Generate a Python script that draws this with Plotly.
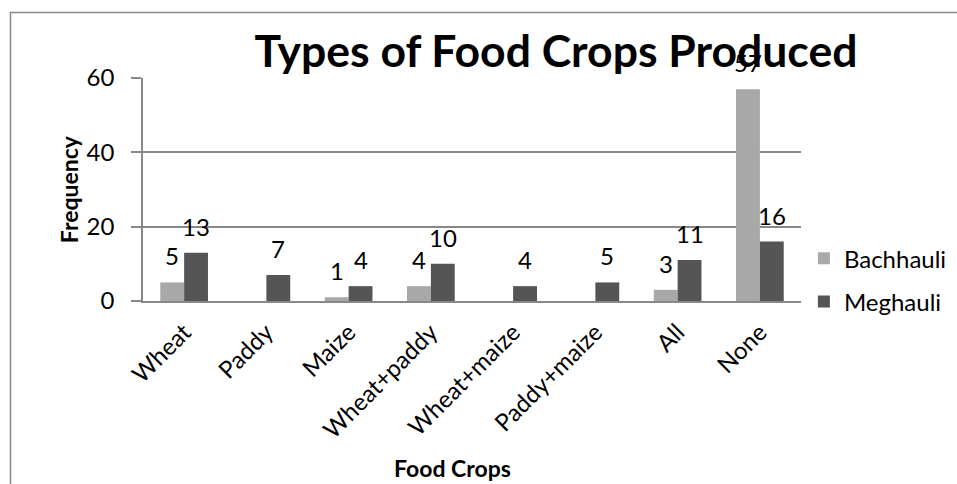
import plotly.graph_objects as go

# Survey counts of food crops produced, by village
crops = ["Wheat", "Paddy", "Maize", "Wheat+paddy", "Wheat+maize",
         "Paddy+maize", "All", "None"]
bachhauli = [5, 0, 1, 4, 0, 0, 3, 57]
meghauli = [13, 7, 4, 10, 4, 5, 11, 16]
y_ticks = [0, 20, 40, 60]

FONT = "Lato"
GRID = "#888888"

fig = go.Figure()
fig.add_trace(go.Bar(name="Bachhauli", x=crops, y=bachhauli,
                     marker=dict(color="#a8a8a8", line=dict(width=0)),
                     legendgroup="b"))
fig.add_trace(go.Bar(name="Meghauli", x=crops, y=meghauli,
                     marker=dict(color="#555555", line=dict(width=0)),
                     legendgroup="m"))

# value labels above each bar (skip empty bars)
annotations = []
for series, shift in ((bachhauli, -12), (meghauli, 12)):
    for c, v in zip(crops, series):
        if v == 0:
            continue
        annotations.append(dict(x=c, y=v, xref="x", yref="y", text=str(v),
                                showarrow=False, xshift=shift, yshift=10,
                                yanchor="bottom",
                                font=dict(family=FONT, size=24, color="#000")))

# axis titles
annotations.append(dict(x=0.47, y=-0.75, xref="paper", yref="paper",
                        text="<b>Food Crops</b>", showarrow=False,
                        xanchor="center", yanchor="middle",
                        font=dict(family=FONT, size=23, color="#000")))
annotations.append(dict(x=-0.113, y=0.5, xref="paper", yref="paper",
                        text="<b>Frequency</b>", showarrow=False, textangle=-90,
                        xanchor="center", yanchor="middle",
                        font=dict(family=FONT, size=23, color="#000")))

fig.update_layout(
    width=957, height=484,
    margin=dict(l=143, r=156, t=78, b=183),
    paper_bgcolor="white", plot_bgcolor="white",
    barmode="group", bargap=0.42, bargroupgap=0,
    font=dict(family=FONT, size=24, color="#000"),
    title=dict(text="<b>Types of Food Crops Produced</b>",
               x=0.581, xref="container", xanchor="center",
               y=0.893, yref="container", yanchor="middle",
               font=dict(family=FONT, size=44.5, color="#000")),
    legend=dict(x=0.84, y=0.512, xref="container", yref="container",
                xanchor="left", yanchor="top",
                font=dict(family=FONT, size=24, color="#000"),
                tracegroupgap=9, bgcolor="rgba(0,0,0,0)"),
    annotations=annotations,
    shapes=[dict(type="rect", xref="paper", yref="paper",
                 x0=-0.2014, x1=1.25, y0=-0.9, y1=1.2937,
                 line=dict(color=GRID, width=1.5), layer="below")],
    showlegend=True,
)

fig.update_xaxes(
    type="category", tickangle=-45, showgrid=False, automargin=False,
    showline=True, linecolor=GRID, linewidth=1.5,
    ticks="", ticklabelstandoff=6,
    tickfont=dict(family=FONT, size=24, color="#000"),
)
fig.update_yaxes(
    range=[0, 60], tickvals=y_ticks, showgrid=True, automargin=False,
    gridcolor=GRID, gridwidth=1.5,
    showline=True, linecolor=GRID, linewidth=1.5,
    ticks="outside", ticklen=10, tickcolor=GRID, tickwidth=1.5,
    ticklabelstandoff=12, zeroline=False,
    tickfont=dict(family=FONT, size=24, color="#000"),
)

fig.write_html("out.html")
